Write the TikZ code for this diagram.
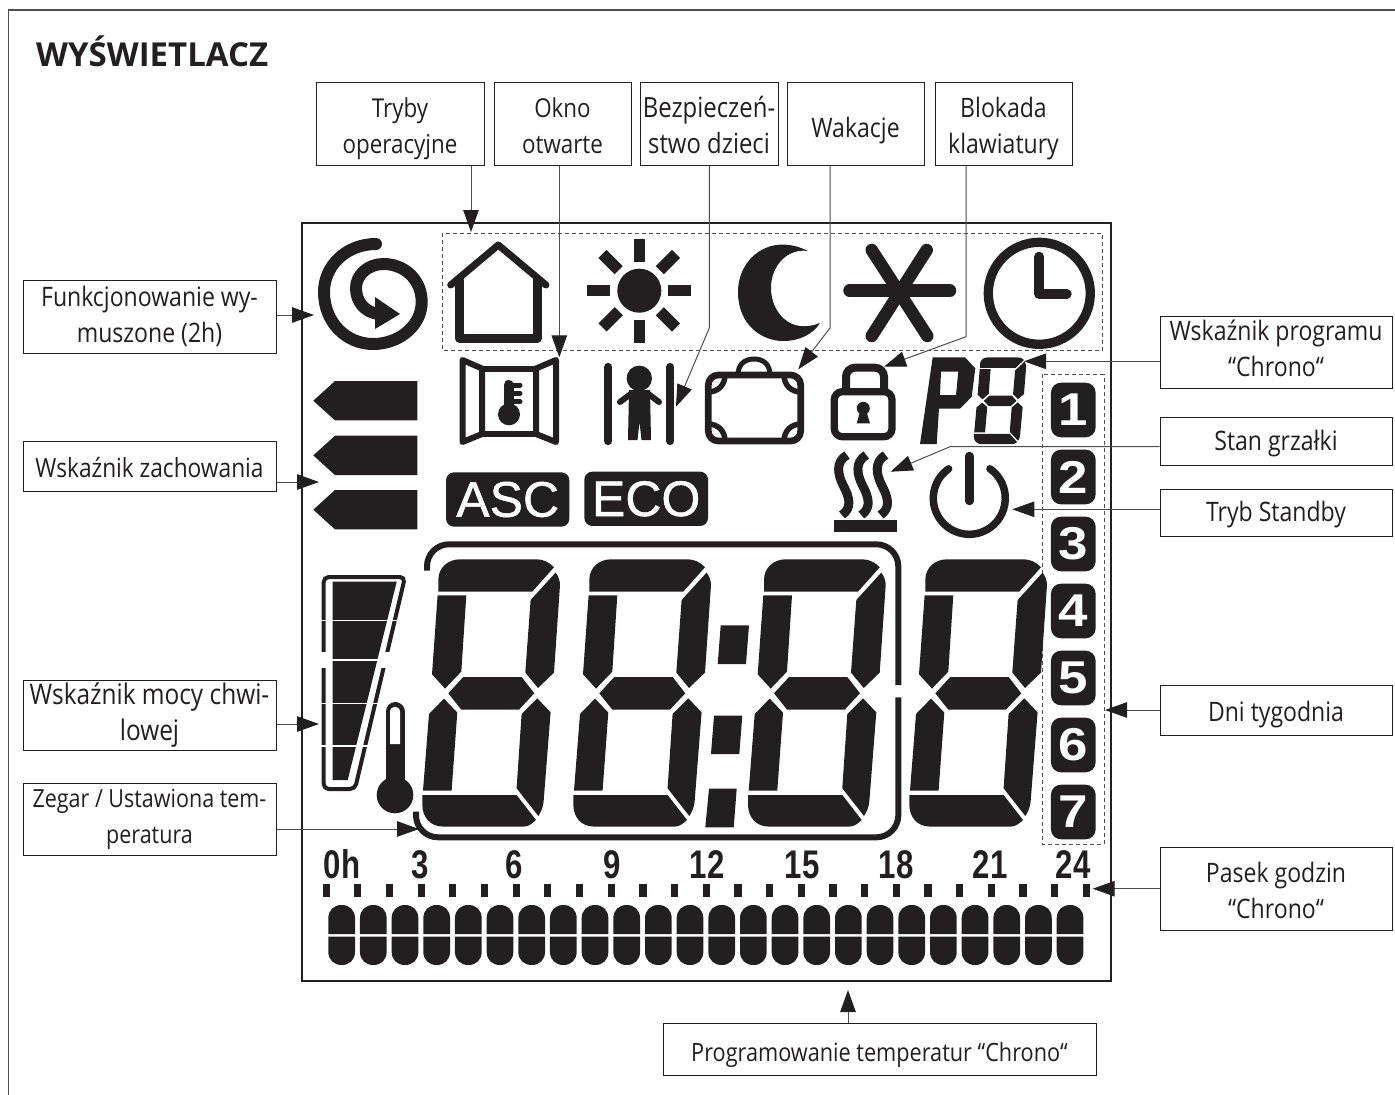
\documentclass[tikz,border=0pt]{standalone}
\usepackage{fontspec}
\usepackage{xcolor}
\usetikzlibrary{arrows.meta}
\setmainfont[FakeStretch=0.86]{Open Sans}
\newfontfamily\titlefont{Open Sans}
\newfontfamily\hourfont[FakeStretch=0.78]{Liberation Sans}
\newfontfamily\lcdfont[FakeBold=1]{Liberation Sans}
\newfontfamily\dayfont[FakeStretch=1.15]{Liberation Sans}
\definecolor{lcdblack}{HTML}{231F20}
\definecolor{wirecol}{HTML}{4D4D4D}
\newcommand{\firstln}[1]{\rule{0pt}{#1pt}}
\newcommand{\lastln}[1]{\rule[-#1pt]{0pt}{#1pt}}

\begin{document}
\begin{tikzpicture}[
    x=1pt, y=-1pt,
    labelbox/.style={rectangle, draw=lcdblack, line width=1pt, fill=white, inner sep=0pt, align=center, text=lcdblack, font=\fontsize{26.8}{36}\selectfont},
    wire/.style={draw=wirecol, line width=1pt, -{Triangle[length=22pt, width=15.5pt, color=lcdblack]}},
    dashbox/.style={draw=wirecol, line width=1pt, dash pattern=on 4pt off 3pt},
    icon/.style={draw=lcdblack, line join=round, line cap=round},
    solid icon/.style={fill=lcdblack, draw=none},
    badge/.style={fill=lcdblack, rounded corners=8pt, text=white, inner sep=0pt, font=\lcdfont\fontsize{50}{50}\selectfont},
    daybox/.style={fill=lcdblack, rounded corners=10pt, minimum width=44.7pt, minimum height=54.6pt, inner sep=0pt, text=white, font=\dayfont\bfseries\fontsize{46}{46}\selectfont},
    hourlabel/.style={anchor=base, inner sep=0pt, text=lcdblack, font=\hourfont\bfseries\fontsize{40}{40}\selectfont},
    lcddigit/.pic={
        \fill[solid icon] (0,32.3) -- (0,20.7) .. controls (0,8) and (10,0) .. (21.7,0) -- (98.3,0) .. controls (105,0) and (111,3) .. (115.7,8) -- (94,32.3) -- cycle;
        \fill[solid icon] (-0.7,36) -- (28,36) -- (23,112.3) -- (6.7,129.3) -- (-6.3,115) -- cycle;
        \fill[solid icon] (92.3,40.7) -- (117.3,13.3) .. controls (120,17) and (121.7,21) .. (121.7,25.7) -- (115.7,113.3) -- (99.7,128.7) -- (87,113.3) -- cycle;
        \fill[solid icon] (10,134) -- (25,117.7) -- (83.3,117.7) -- (96,134) -- (80.7,150.3) -- (23,150.3) -- cycle;
        \fill[solid icon] (5.7,139.3) -- (19,153.3) -- (13.3,231.3) -- (-15.3,231.3) -- (-9.3,154.7) -- cycle;
        \fill[solid icon] (99,139) -- (112.3,153) -- (105.5,240) .. controls (105,248) and (103,252) .. (100,256.7) -- (78.3,229) -- (83.3,154.7) -- cycle;
        \fill[solid icon] (-16,235.7) -- (78.3,235.7) -- (97.7,260.7) .. controls (93,265) and (90,267.3) .. (85,267.3) -- (5,267.3) .. controls (-8,267.3) and (-16,258) .. (-16,245) -- cycle;
    }
]
\useasboundingbox (0,0) rectangle (1395,1095);

% page frame and title
\draw[draw=wirecol, line width=1.3pt] (8.5,1095) -- (8.5,10) -- (1395,10);
\node[anchor=base west, inner sep=0pt, text=lcdblack, font=\titlefont\bfseries\fontsize{33}{33}\selectfont] (title) at (36,66) {WYŚWIETLACZ};

% display outline
\draw[draw=lcdblack, line width=2pt] (302,223) rectangle (1111,981);
\draw[dashbox] (442,233.3) rectangle (1102.3,350.7);
\draw[dashbox] (1042,374.3) rectangle (1104,844);

% forced mode swirl
\draw[icon, line width=12pt] (376,244) .. controls (346,244) and (324,266) .. (324,292) .. controls (324,322) and (346,344) .. (373,344) .. controls (400,344) and (421.7,325) .. (421.7,302) .. controls (421.7,280) and (405,264) .. (383.3,264) .. controls (368,264) and (356,275) .. (356,288) .. controls (356,302) and (365,312) .. (378,314);
\fill[solid icon] (375,297) -- (400,314) -- (375,329) -- cycle;

% house
\draw[icon, line width=7pt] (450.7,285) -- (498.3,245) -- (546,285);
\draw[icon, line width=8.5pt] (459.3,280) -- (459.3,338.3) -- (537.3,338.3) -- (537.3,280);

% sun
\fill[solid icon] (639.3,290.7) circle (22);
\foreach \ang in {0,45,...,315}
    \draw[draw=lcdblack, line width=11.5pt, rounded corners=1pt] (639.3,290.7) ++(\ang:29) -- ++(\ang:23);

% moon
\fill[solid icon] (808,251) .. controls (770,232) and (738,258) .. (738,292) .. controls (738,325) and (762,341) .. (783,341) .. controls (800,341) and (813,334) .. (820,323) .. controls (790,335) and (771,312) .. (771,288) .. controls (771,265) and (788,248) .. (808,251) -- cycle;

% frost
\draw[icon, line width=12.5pt] (849.5,290.7) -- (950,290.7);
\draw[icon, line width=12.5pt] (871.7,250) -- (927.3,336);
\draw[icon, line width=12.5pt] (926.7,250) -- (871.7,336);

% clock
\draw[draw=lcdblack, line width=9.3pt] (1039.3,293.3) circle (51);
\draw[icon, line width=10pt] (1039.3,256.7) -- (1039.3,294) -- (1066.7,294);

% open window
\draw[icon, line width=6pt] (462.5,360) -- (482,368.5) -- (482,434) -- (462.5,442) -- cycle;
\draw[icon, line width=6pt] (482,368.5) rectangle (536,434);
\draw[icon, line width=6pt] (556,360) -- (536,368.5) -- (536,434) -- (556,442) -- cycle;
\draw[icon, line width=10pt] (508.5,385) -- (508.5,410);
\fill[solid icon] (509,414.3) circle (11);
\foreach \yt in {385,393.3,401.7}
    \draw[icon, line width=5pt] (510,\yt) -- (520,\yt);

% child lock bars
\draw[icon, line width=8.3pt] (608.3,367) -- (608.3,441);
\draw[icon, line width=8.3pt] (670.3,367) -- (670.3,441);
\fill[solid icon] (639.3,378.3) circle (12.7);
\fill[solid icon] (629,390) -- (650,390) -- (651,440) -- (641.5,440) -- (639.5,422) -- (637.5,440) -- (628,440) -- cycle;
\draw[icon, line width=6pt] (632,393) -- (620,402);
\draw[icon, line width=6pt] (647,393) -- (659,402);

% suitcase
\draw[draw=lcdblack, line width=6.7pt, rounded corners=10pt] (708.3,375) rectangle (800.7,441);
\draw[draw=lcdblack, line width=5pt] (738,375) .. controls (738,364) and (745,359) .. (754,359) .. controls (763,359) and (770,364) .. (770,375);
\draw[draw=lcdblack, line width=5.5pt] (708,392) .. controls (718,392) and (725,385) .. (725,375);
\draw[draw=lcdblack, line width=5.5pt] (801,392) .. controls (791,392) and (784,385) .. (784,375);
\draw[draw=lcdblack, line width=5.5pt] (708,424) .. controls (718,424) and (725,431) .. (725,441);
\draw[draw=lcdblack, line width=5.5pt] (801,424) .. controls (791,424) and (784,431) .. (784,441);

% keypad lock
\draw[draw=lcdblack, line width=7.3pt, rounded corners=8pt] (834.3,391.7) rectangle (892,436.7);
\draw[draw=lcdblack, line width=8pt, rounded corners=9pt] (846,392) -- (846,367.7) -- (884,367.7) -- (884,392);
\fill[solid icon] (863.3,408.3) circle (6.5);
\fill[solid icon] (860.5,410) -- (866,410) -- (870,423.3) -- (856.7,423.3) -- cycle;

% program number
\fill[solid icon, even odd rule] (932.7,357.3) -- (965,357.3) -- (975.3,368.3) -- (971.7,396.7) -- (960,408.7) -- (939,408.7) -- (936.7,444) -- (920,444) -- cycle (941,371.7) -- (958.3,371.7) -- (956,395) -- (940,395) -- cycle;
\pic[xscale=0.38, yscale=0.325] (prognum) at (980,357.3) {lcddigit};

% heater
\foreach \dx in {0,19.3,38.6}
    \draw[draw=lcdblack, line width=9pt] (847+\dx,455) .. controls (835+\dx,462) and (838+\dx,475) .. (843+\dx,485) .. controls (850+\dx,498) and (852+\dx,508) .. (842+\dx,515);
\fill[solid icon] (833.7,520) rectangle (897.3,532.3);

% standby
\draw[icon, line width=7.5pt] (969.3,498.3) ++(-125:36) arc[start angle=-125, end angle=-415, radius=36];
\draw[icon, line width=8.5pt] (969.3,456) -- (969.3,501);

% behaviour pointers
\foreach \ym in {381,435.7,490}
    \fill[solid icon] (313.3,\ym+19.7) -- (335,\ym) -- (417.3,\ym) -- (417.3,\ym+39.4) -- (335,\ym+39.4) -- cycle;

% asc / eco
\node[badge, minimum width=123.3pt, minimum height=54.4pt] (asc) at (507.7,499.5) {ASC};
\node[badge, minimum width=123.7pt, minimum height=54.3pt] (eco) at (646.2,498.8) {ECO};

% power meter
\draw[draw=lcdblack, line width=4pt, rounded corners=5pt] (323.7,577) -- (405,577) -- (355,789) -- (323.7,789) -- cycle;
\fill[white] (320,651.7) rectangle (328,668.3);
\fill[white] (380,651.7) rectangle (394,668.3);
\fill[solid icon] (332.7,581.7) -- (396.7,581.7) -- (347.7,780) -- (332.7,780) -- cycle;
\foreach \yg in {620.3,660,703.3,746}
    \draw[draw=white, line width=1.5pt] (320,\yg) -- (400,\yg);

% thermometer
\draw[draw=lcdblack, line width=19pt, line cap=round] (395,711.5) -- (395,780);
\fill[solid icon] (395,795) circle (18.3);
\fill[white] (390,744) -- (390,712) .. controls (390,705) and (400,705) .. (400,712) -- (400,744) -- cycle;

% big digits
\foreach \xd/\nm in {438.3/a,589.3/b,764/c,925.3/d}
    \pic (dig\nm) at (\xd,559.3) {lcddigit};
\fill[solid icon] (720.7,625.3) -- (749,625.3) -- (746,664) -- (717.7,664) -- cycle;
\fill[solid icon] (714,715.7) -- (742.3,715.7) -- (739.3,754) -- (711,754) -- cycle;
\fill[solid icon] (709,788.7) -- (736.7,788.7) -- (733.7,827.3) -- (705.3,827.3) -- cycle;
\draw[draw=lcdblack, line width=6pt, rounded corners=22pt] (427,570.7) -- (427,544.3) -- (898.3,544.3) -- (898.3,685);
\draw[draw=lcdblack, line width=6pt, rounded corners=22pt] (898.3,697.3) -- (898.3,837.3) -- (416,837.3) -- (416,811.7);

% days of week
\foreach \d in {1,...,7}
    \node[daybox] (day\d) at (1073.3,410+67*\d-67) {\d};

% hour bar
\foreach \xh/\txt in {342/0h,420/3,514/6,612/9,707/12,802/15,896/18,990/21,1073/24}
    \node[hourlabel] (hour\txt) at (\xh,878) {\txt};
\foreach \n in {0,...,24}
    \fill[solid icon] (322.5+31.67*\n,884) rectangle (329.8+31.67*\n,897.3);
\foreach \n in {0,...,23} {
    \fill[solid icon] (328.3+31.67*\n,934) -- (328.3+31.67*\n,918.3) .. controls (328.3+31.67*\n,910) and (334+31.67*\n,905) .. (341.7+31.67*\n,905) .. controls (349.4+31.67*\n,905) and (355+31.67*\n,910) .. (355+31.67*\n,918.3) -- (355+31.67*\n,934) -- cycle;
    \fill[solid icon] (328.3+31.67*\n,936.7) -- (328.3+31.67*\n,951.7) .. controls (328.3+31.67*\n,960) and (334+31.67*\n,965) .. (341.7+31.67*\n,965) .. controls (349.4+31.67*\n,965) and (355+31.67*\n,960) .. (355+31.67*\n,951.7) -- (355+31.67*\n,936.7) -- cycle;
}

% label boxes
\node[labelbox, font=\fontsize{26}{36}\selectfont, minimum width=168pt, minimum height=83pt] (tryby) at (400,123.5) {\firstln{30}Tryby\\operacyjne};
\node[labelbox, font=\fontsize{26}{36}\selectfont, minimum width=137pt, minimum height=83pt] (okno) at (562.5,123.5) {\firstln{24}Okno\\otwarte};
\node[labelbox, font=\fontsize{27.8}{36}\selectfont, minimum width=138pt, minimum height=83pt] (bezp) at (709,123.5) {\firstln{25}Bezpieczeń-\\stwo dzieci};
\node[labelbox, minimum width=137pt, minimum height=83pt] (wakacje) at (855.5,123.5) {\firstln{34}Wakacje};
\node[labelbox, minimum width=137pt, minimum height=83pt] (blokada) at (1003.5,123.5) {\firstln{30.4}Blokada\\klawiatury};
\node[labelbox, minimum width=253pt, minimum height=73pt] (wymuszone) at (149.5,316.5) {Funkcjonowanie wy-\\muszone (2h)};
\node[labelbox, font=\fontsize{26.4}{36}\selectfont, minimum width=253pt, minimum height=50pt] (zachowanie) at (149.5,466) {\firstln{23}Wskaźnik zachowania};
\node[labelbox, font=\fontsize{28.4}{36}\selectfont, minimum width=253pt, minimum height=70pt] (moc) at (149.5,715) {Wskaźnik mocy chwi-\\lowej};
\node[labelbox, font=\fontsize{25}{36}\selectfont, minimum width=253pt, minimum height=72pt] (zegar) at (149.5,819) {Zegar / Ustawiona tem-\\peratura};
\node[labelbox, minimum width=232pt, minimum height=72pt] (program) at (1276,352) {Wskaźnik programu\\“Chrono“\lastln{8}};
\node[labelbox, minimum width=232pt, minimum height=48pt] (grzalka) at (1276,441) {\firstln{25}Stan grzałki};
\node[labelbox, minimum width=232pt, minimum height=47pt] (standby) at (1276,512.5) {\firstln{25}Tryb Standby};
\node[labelbox, minimum width=232pt, minimum height=50pt] (dni) at (1276,710) {\firstln{29}Dni tygodnia};
\node[labelbox, minimum width=232pt, minimum height=83pt] (pasek) at (1276,888.5) {\firstln{24.4}Pasek godzin\\“Chrono“};
\node[labelbox, font=\fontsize{25.2}{36}\selectfont, minimum width=433pt, minimum height=52.7pt] (temp) at (879.5,1049.5) {\firstln{31}Programowanie temperatur “Chrono“};

% connector ends
\coordinate (trybyTip) at (471,232);
\coordinate (oknoTip) at (559.3,357.3);
\coordinate (bezpBend) at (709.3,328);
\coordinate (bezpTip) at (676,406.7);
\coordinate (wakacjeBend) at (830,328);
\coordinate (wakacjeTip) at (798.3,369.3);
\coordinate (blokadaBend) at (966,336.7);
\coordinate (blokadaTip) at (884,366.7);
\coordinate (wymuszoneTip) at (314,315);
\coordinate (zachowanieTip) at (319,482);
\coordinate (mocTip) at (319,724);
\coordinate (zegarTip) at (419,829);
\coordinate (programTip) at (1024,361.3);
\coordinate (grzalkaBend) at (950,446.7);
\coordinate (grzalkaTip) at (890.7,471.7);
\coordinate (standbyTip) at (1012.3,509.3);
\coordinate (dniTip) at (1105,710);
\coordinate (pasekTip) at (1092.7,888.7);
\coordinate (tempTip) at (848,990);

\draw[wire] (tryby.south -| trybyTip) -- (trybyTip);
\draw[wire] (okno.south -| oknoTip) -- (oknoTip);
\draw[wire] (bezp.south -| bezpBend) -- (bezpBend) -- (bezpTip);
\draw[wire] (wakacje.south -| wakacjeBend) -- (wakacjeBend) -- (wakacjeTip);
\draw[wire] (blokada.south -| blokadaBend) -- (blokadaBend) -- (blokadaTip);
\draw[wire] (wymuszone.east |- wymuszoneTip) -- (wymuszoneTip);
\draw[wire] (zachowanie.east |- zachowanieTip) -- (zachowanieTip);
\draw[wire] (moc.east |- mocTip) -- (mocTip);
\draw[wire] (zegar.east |- zegarTip) -- (zegarTip);
\draw[wire] (program.west |- programTip) -- (programTip);
\draw[wire] (grzalka.west |- grzalkaBend) -- (grzalkaBend) -- (grzalkaTip);
\draw[wire] (standby.west |- standbyTip) -- (standbyTip);
\draw[wire] (dni.west |- dniTip) -- (dniTip);
\draw[wire] (pasek.west |- pasekTip) -- (pasekTip);
\draw[wire] (temp.north -| tempTip) -- (tempTip);
\end{tikzpicture}
\end{document}
